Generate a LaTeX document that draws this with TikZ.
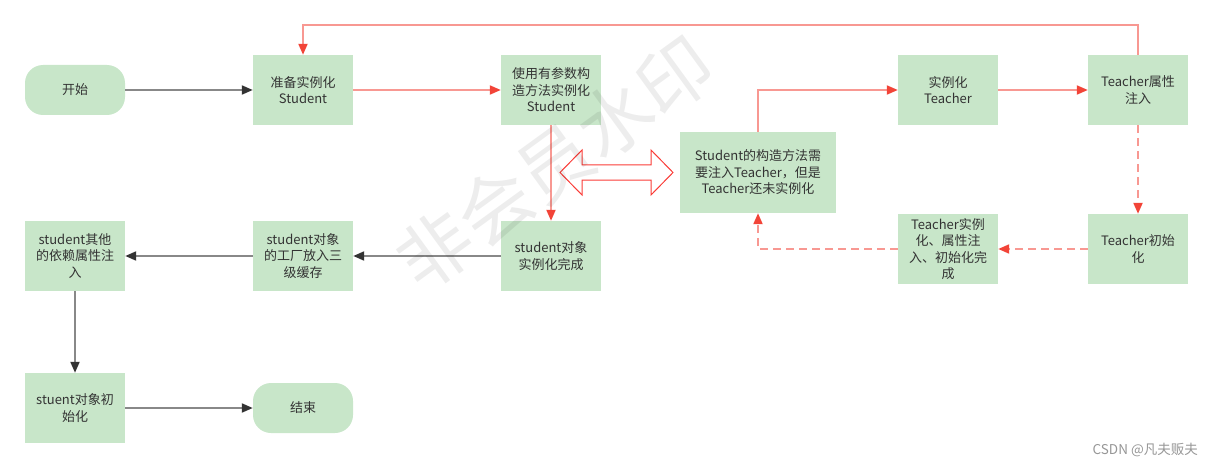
\documentclass[tikz,border=0pt]{standalone}
\usepackage{fontspec}
\setmainfont{Noto Sans CJK SC}
\usetikzlibrary{arrows.meta,calc}
\definecolor{boxgreen}{RGB}{200,230,201}
\definecolor{txt}{RGB}{51,51,51}
\definecolor{grayline}{RGB}{136,136,136}
\definecolor{graytip}{RGB}{51,51,51}
\definecolor{redline}{RGB}{248,152,146}
\definecolor{redtip}{RGB}{242,68,56}
\definecolor{dblred}{RGB}{250,60,55}
\tikzset{
  stepbox/.style={rectangle, fill=boxgreen, minimum width=100pt, minimum height=70pt,
    inner sep=0pt, align=center, text=txt, font=\fontsize{13}{16.5}\selectfont},
  termbox/.style={stepbox, minimum height=50pt, rounded corners=18pt},
  grayarrow/.style={draw=grayline, line width=2pt,
    -{Triangle[length=11pt,width=9pt,color=graytip]}},
  redarrow/.style={draw=redline, line width=2pt,
    -{Triangle[length=11pt,width=9pt,color=redtip]}},
  reddash/.style={redarrow, dash pattern=on 8pt off 5pt}
}
\begin{document}
\begin{tikzpicture}[x=1pt,y=-1pt]
\useasboundingbox (0,0) rectangle (1213,468);
% nodes
\node[termbox] (start) at (75,90) {开始};
\node[stepbox] (prep) at (303,90) {准备实例化\\Student};
\node[stepbox] (ctor) at (551,90) {使用有参数构\\造方法实例化\\Student};
\node[stepbox] (tinst) at (948,90) {实例化\\Teacher};
\node[stepbox] (tattr) at (1138,90) {Teacher属性\\注入};
\node[stepbox, minimum width=156pt, minimum height=81pt] (need) at (758,172.5)
  {Student的构造方法需\\要注入Teacher，但是\\Teacher还未实例化};
\node[stepbox] (tinit) at (1138,249) {Teacher初始\\化};
\node[stepbox] (tdone) at (948,249) {Teacher实例\\化、属性注\\入、初始化完\\成};
\node[stepbox] (sdone) at (551,256) {student对象\\实例化完成};
\node[stepbox] (cache) at (303,256) {student对象\\的工厂放入三\\级缓存};
\node[stepbox] (deps) at (75,256) {student其他\\的依赖属性注\\入};
\node[stepbox] (sinit) at (75,408) {stuent对象初\\始化};
\node[termbox] (finish) at (303,408) {结束};
\coordinate (toprow) at (0,25);
% double arrow
\draw[draw=dblred, fill=white, line width=1pt, line join=miter]
  (560,172.5) -- (582,150) -- (582,165) -- (651,165) -- (651,150) -- (673,172.5)
  -- (651,195) -- (651,180) -- (582,180) -- (582,195) -- cycle;
% connectors
\draw[grayarrow] (start.east) -- (prep.west);
\draw[redarrow] (prep.east) -- (ctor.west);
\draw[redarrow] (ctor.south) -- (sdone.north);
\draw[redarrow] (need.north) |- (tinst.west);
\draw[redarrow] (tinst.east) -- (tattr.west);
\draw[redarrow] (tattr.north) -- (tattr.north |- toprow) -| (prep.north);
\draw[reddash] (tattr.south) -- (tinit.north);
\draw[reddash] (tinit.west) -- (tdone.east);
\draw[reddash] (tdone.west) -| (need.south);
\draw[grayarrow] (sdone.west) -- (cache.east);
\draw[grayarrow] (cache.west) -- (deps.east);
\draw[grayarrow] (deps.south) -- (sinit.north);
\draw[grayarrow] (sinit.east) -- (finish.west);
% watermark
\node[rotate=36, text=black, opacity=0.07, font=\fontsize{74}{74}\selectfont] (wm) at (555,163) {非会员水印};
% credit
\node[anchor=east, text={rgb,255:red,150;green,150;blue,150}, font=\fontsize{13.5}{14}\selectfont, inner sep=0pt] (credit) at (1198,450) {CSDN @凡夫贩夫};
\end{tikzpicture}
\end{document}
